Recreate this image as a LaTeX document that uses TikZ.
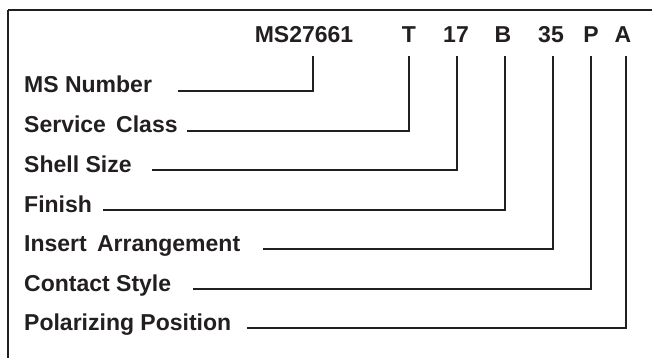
\documentclass[tikz,border=0pt]{standalone}
\usepackage{fontspec}
\setmainfont{Liberation Sans}
\definecolor{ink}{HTML}{231F20}
\begin{document}
\begin{tikzpicture}[x=1pt,y=-1pt,
  lbl/.style={anchor=base west,inner sep=0pt,font=\fontsize{23}{23}\selectfont\bfseries,text=ink},
  code/.style={anchor=base,inner sep=0pt,font=\fontsize{23}{23}\selectfont\bfseries,text=ink},
  conn/.style={draw=ink,line width=1.6pt}]
\useasboundingbox (0,0) rectangle (652,358);
\draw[ink,line width=2.2pt] (8,10) -- (8,370) (8,10) -- (670,10);
% codes
\node[code] (cms) at (304,43) {MS27661};
\node[code] (ct) at (409,43) {T};
\node[code] (c17) at (456,43) {17};
\node[code] (cb) at (503,43) {B};
\node[code] (c35) at (551,43) {35};
\node[code] (cp) at (591,43) {P};
\node[code] (ca) at (623,43) {A};
% tops of connectors
\coordinate (tms) at (313,56);
\coordinate (tt) at (409,56);
\coordinate (t17) at (457,56);
\coordinate (tb) at (505,56);
\coordinate (t35) at (553,56);
\coordinate (tp) at (591,56);
\coordinate (ta) at (626,56);
% labels
\node[lbl] (lms) at (24,93) {MS Number};
\node[lbl] (lsc) at (24,133) {Service\, Class};
\node[lbl] (lss) at (24,172) {Shell Size};
\node[lbl] (lfi) at (24,212) {Finish};
\node[lbl] (lia) at (24,251) {Insert\, Arrangement};
\node[lbl] (lcs) at (24,291) {Contact Style};
\node[lbl] (lpp) at (24,330) {Polarizing Position};
% line starts
\coordinate (sms) at (178,91);
\coordinate (ssc) at (187,131);
\coordinate (sss) at (152,170);
\coordinate (sfi) at (103,210);
\coordinate (sia) at (263,249);
\coordinate (scs) at (193,289);
\coordinate (spp) at (247,328);
\draw[conn] (sms) -| (tms);
\draw[conn] (ssc) -| (tt);
\draw[conn] (sss) -| (t17);
\draw[conn] (sfi) -| (tb);
\draw[conn] (sia) -| (t35);
\draw[conn] (scs) -| (tp);
\draw[conn] (spp) -| (ta);
\end{tikzpicture}
\end{document}
